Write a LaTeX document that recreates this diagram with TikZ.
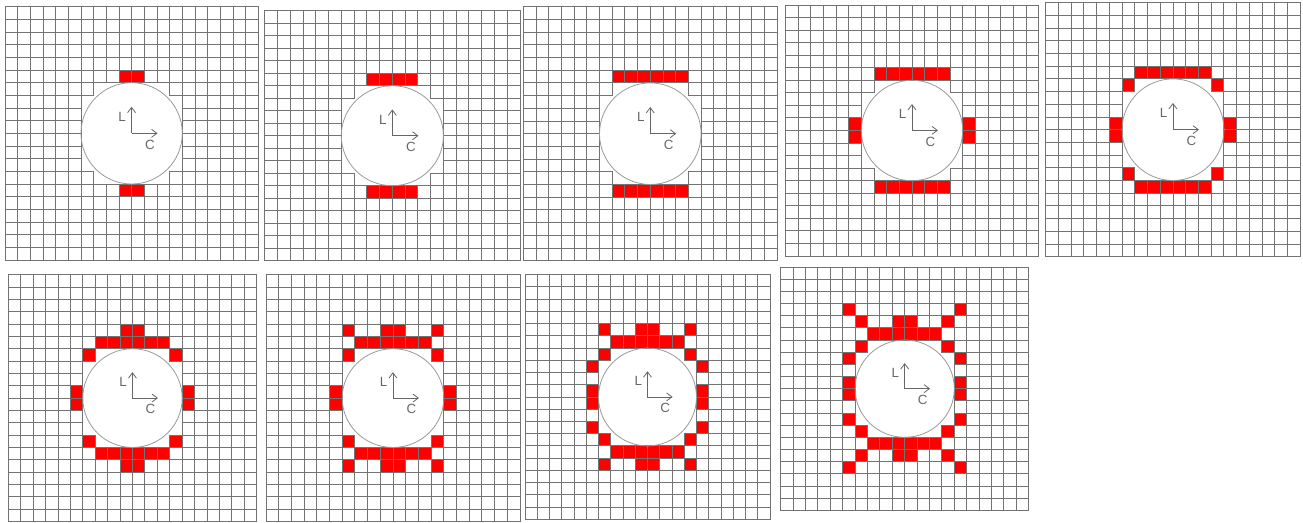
\documentclass[tikz,border=0pt]{standalone}
\usepackage{fontspec}
\setsansfont{Liberation Sans}
\usetikzlibrary{arrows.meta}
\definecolor{gridc}{gray}{0.45}
\definecolor{circc}{gray}{0.6}
\definecolor{axc}{gray}{0.4}
\tikzset{
  cellline/.style={draw=gridc, line width=0.7pt},
  redcell/.style={fill=red},
  circline/.style={draw=circc, line width=0.6pt},
  axis/.style={draw=axc, line width=0.6pt, -{Straight Barb[length=4pt,width=6pt]}},
  axlabel/.style={text=axc, font=\sffamily\fontsize{10}{12}\selectfont, inner sep=0pt}
}
\def\redA{9/5,10/5,9/14,10/14}
\def\redB{8/5,9/5,10/5,11/5,8/14,9/14,10/14,11/14}
\def\redC{7/5,8/5,9/5,10/5,11/5,12/5,7/14,8/14,9/14,10/14,11/14,12/14}
\edef\redD{\redC,5/9,5/10,14/9,14/10}
\edef\redE{\redD,6/6,13/6,6/13,13/13}
\edef\redF{\redE,9/4,10/4,9/15,10/15}
\edef\redG{\redF,6/4,13/4,6/15,13/15}
\edef\redH{\redG,5/7,5/12,14/7,14/12}
\edef\redI{\redH,5/3,14/3,5/16,14/16}
\newcommand\gridpanel[6]{%
  \begin{scope}[shift={(#1,#2)}, xscale={(#3-#1)/20}, yscale={(#4-#2)/20}]
    \foreach \c/\r in #5 {\fill[redcell] (\c,\r) rectangle ++(1,1);}
    \foreach \i in {0,...,19} {
      \foreach \j in {0,...,19} {
        \pgfmathparse{((max(\i-10,9-\i,0))^2+(max(\j-10,9-\j,0))^2>=16) ? 1 : 0}
        \ifdim\pgfmathresult pt>0.5pt
          \draw[cellline] (\i,\j) rectangle ++(1,1);
        \fi
      }
    }
    \draw[circline] (10,10) circle [x radius=4, y radius=4];
    \coordinate (o#6) at (10,10);
    \coordinate (u#6) at (10,7.9);
    \coordinate (r#6) at (12.05,10);
    \draw[axis] (o#6) -- (u#6);
    \draw[axis] (o#6) -- (r#6);
    \node[axlabel] (L#6) at (9.25,8.7) {L};
    \node[axlabel] (C#6) at (11.45,10.9) {C};
  \end{scope}
}
\begin{document}
\begin{tikzpicture}[x=0.75pt, y=-0.75pt]
\useasboundingbox (0,0) rectangle (1303,522);
\gridpanel{5}{6.7}{258.3}{260}{\redA}{a}
\gridpanel{264.7}{10.7}{520}{260.7}{\redB}{b}
\gridpanel{523.3}{6.7}{777.3}{260.7}{\redC}{c}
\gridpanel{785.3}{5}{1038.7}{256}{\redD}{d}
\gridpanel{1045.7}{2.7}{1300.3}{256.7}{\redE}{e}
\gridpanel{8.3}{274.7}{256.7}{521.5}{\redF}{f}
\gridpanel{266}{274.7}{520}{521.5}{\redG}{g}
\gridpanel{525}{274.7}{770}{519.3}{\redH}{h}
\gridpanel{780.7}{267}{1028.7}{510.3}{\redI}{i}
\end{tikzpicture}
\end{document}
